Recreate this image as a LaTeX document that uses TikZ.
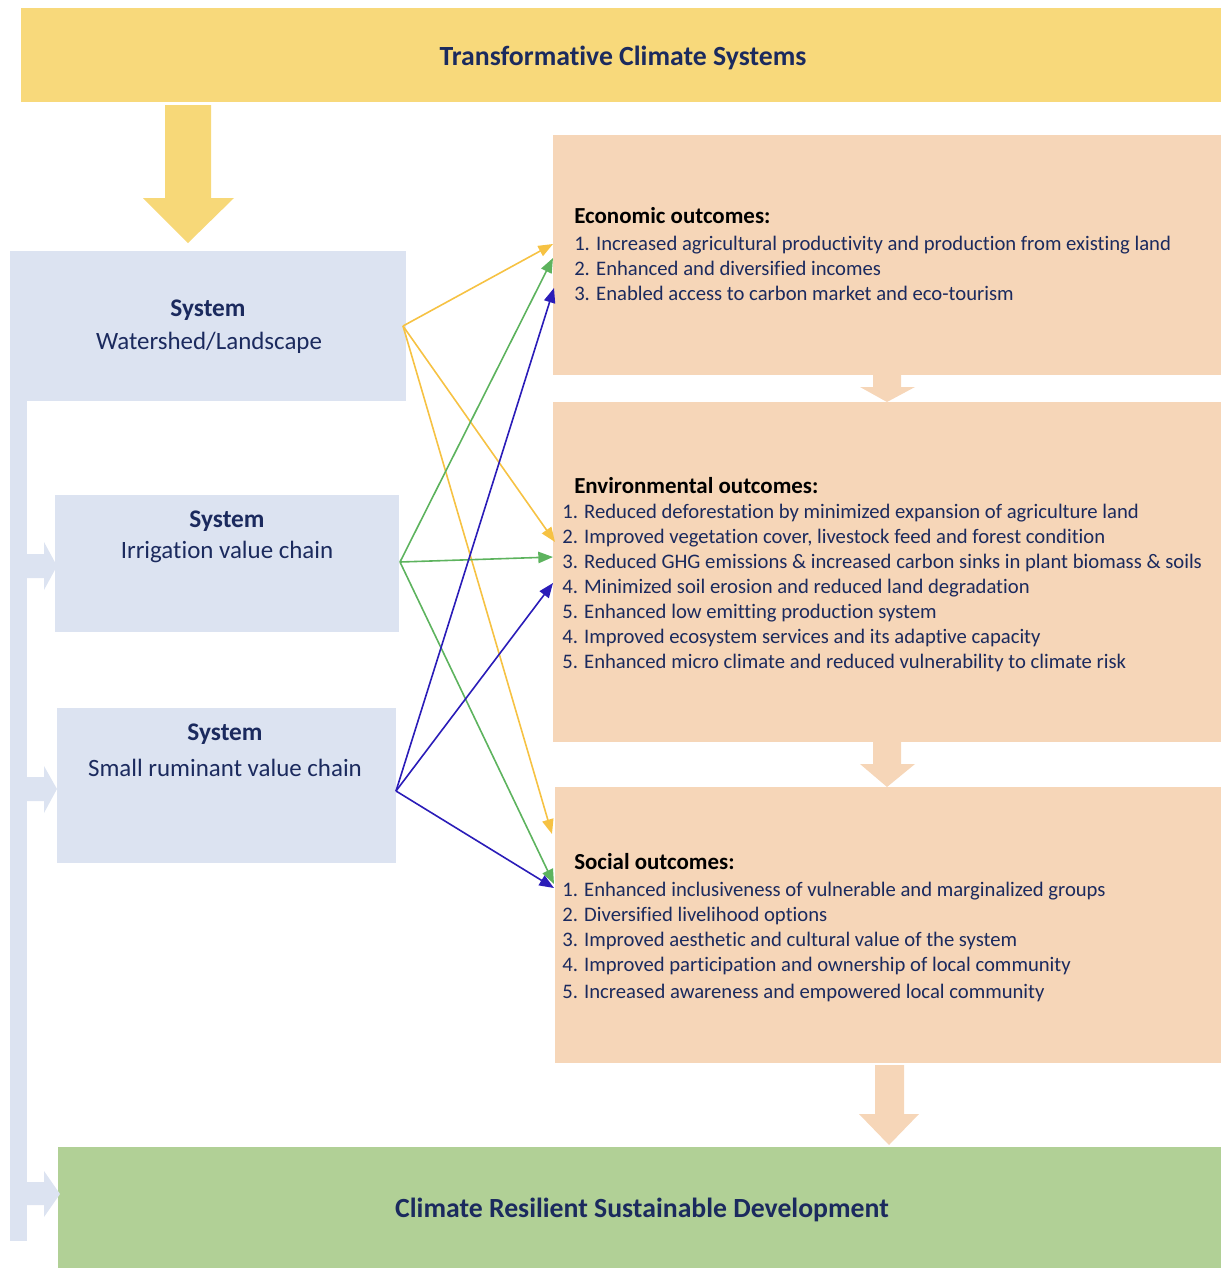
\documentclass[tikz,border=0pt]{standalone}
\usepackage{fontspec}
\setmainfont{Carlito}[Ligatures=NoCommon]
\usetikzlibrary{arrows.meta}
\definecolor{bannerY}{HTML}{F8D97B}
\definecolor{arrowY}{HTML}{F7D878}
\definecolor{peach}{HTML}{F6D6B8}
\definecolor{sysblue}{HTML}{DCE3F1}
\definecolor{greenbox}{HTML}{B1D096}
\definecolor{navy}{HTML}{1B2A5E}
\definecolor{lnY}{HTML}{F6C243}
\definecolor{lnG}{HTML}{5DB35E}
\definecolor{lnB}{HTML}{2A1CB8}
\tikzset{
  rbox/.style={inner sep=0pt, outer sep=0pt, anchor=north west},
  title/.style={font=\fontsize{20.8}{24}\selectfont\bfseries, text=navy},
  head/.style={font=\fontsize{17.2}{20}\selectfont\bfseries, text=black, anchor=west, inner sep=0pt},
  items/.style={font=\fontsize{15.5}{18.75}\selectfont, text=navy, anchor=north west, align=left, inner sep=0pt},
  syshead/.style={font=\fontsize{19}{22}\selectfont\bfseries, text=navy, inner sep=0pt},
  systext/.style={font=\fontsize{18.7}{22}\selectfont, text=navy, inner sep=0pt},
  conn/.style={line width=1.2pt, -{Triangle[length=11pt,width=8.5pt]}},
}
\begin{document}
\begin{tikzpicture}[x=0.75pt,y=-0.75pt]
\useasboundingbox (0,0) rectangle (1221,1268);
% boxes
\node[rbox, fill=bannerY, minimum width=1200*0.75pt, minimum height=94*0.75pt] (banner) at (21,8) {};
\node[rbox, fill=peach, minimum width=668*0.75pt, minimum height=240*0.75pt] (econ) at (553,135) {};
\node[rbox, fill=peach, minimum width=668*0.75pt, minimum height=340*0.75pt] (env) at (553,402) {};
\node[rbox, fill=peach, minimum width=666*0.75pt, minimum height=276*0.75pt] (soc) at (555,787) {};
\node[rbox, fill=greenbox, minimum width=1163*0.75pt, minimum height=121*0.75pt] (crsd) at (58,1147) {};
\node[rbox, fill=sysblue, minimum width=396*0.75pt, minimum height=150*0.75pt] (ws) at (10,251) {};
\node[rbox, fill=sysblue, minimum width=344*0.75pt, minimum height=137*0.75pt] (irr) at (55,495) {};
\node[rbox, fill=sysblue, minimum width=339*0.75pt, minimum height=155*0.75pt] (rum) at (57,708) {};
% left bar with side arrows
\fill[sysblue] (10,251) rectangle (27,1241);
\fill[sysblue] (27,554) -- (44,554) -- (44,542) -- (57,566) -- (44,590) -- (44,578) -- (27,578) -- cycle;
\fill[sysblue] (27,777) -- (44,777) -- (44,766) -- (57,789) -- (44,813) -- (44,801) -- (27,801) -- cycle;
\fill[sysblue] (27,1182) -- (44,1182) -- (44,1171) -- (60,1194) -- (44,1217) -- (44,1205) -- (27,1205) -- cycle;
% big block arrows
\fill[arrowY] (165,105) -- (211,105) -- (211,198) -- (234,198) -- (188,243) -- (143,198) -- (165,198) -- cycle;
\fill[peach] (873,374) -- (901,374) -- (901,387) -- (915,387) -- (887,402) -- (860,387) -- (873,387) -- cycle;
\fill[peach] (873,741) -- (901,741) -- (901,764) -- (915,764) -- (887,787) -- (860,764) -- (873,764) -- cycle;
\fill[peach] (875,1065) -- (904,1065) -- (904,1114) -- (919,1114) -- (889,1145) -- (859,1114) -- (875,1114) -- cycle;
% texts
\node[title] (ttl) at (623,58) {Transformative Climate Systems};
\node[title] (ctl) at (642,1210) {Climate Resilient Sustainable Development};
\node[syshead] (ws1) at (208,310) {System};
\node[systext] (ws2) at (209,343) {Watershed/Landscape};
\node[syshead] (irr1) at (227,521) {System};
\node[systext] (irr2) at (227,552) {Irrigation value chain};
\node[syshead] (rum1) at (225,734) {System};
\node[systext] (rum2) at (225,768) {Small ruminant value chain};
\node[head] (eh) at (574,216) {Economic outcomes:};
\node[items] (ei) at (574,236) {1. Increased agricultural productivity and production from existing land\\
2. Enhanced and diversified incomes\\
3. Enabled access to carbon market and eco-tourism};
\node[head] (vh) at (574,486) {Environmental outcomes:};
\node[items] (vi) at (562,504) {1. Reduced deforestation by minimized expansion of agriculture land\\
2. Improved vegetation cover, livestock feed and forest condition\\
3. Reduced GHG emissions \& increased carbon sinks in plant biomass \& soils\\
4. Minimized soil erosion and reduced land degradation\\
5. Enhanced low emitting production system\\
4. Improved ecosystem services and its adaptive capacity\\
5. Enhanced micro climate and reduced vulnerability to climate risk};
\node[head] (sh) at (574,862) {Social outcomes:};
\node[items] (si) at (562,882) {1. Enhanced inclusiveness of vulnerable and marginalized groups\\
2. Diversified livelihood options\\
3. Improved aesthetic and cultural value of the system\\
4. Improved participation and ownership of local community\\[1.5pt]
5. Increased awareness and empowered local community};
% connector anchors
\coordinate (wsO) at (403,326);
\coordinate (irrO) at (400,562);
\coordinate (rumO) at (396,791);
\coordinate (eY) at (553,244);
\coordinate (eG) at (553,258);
\coordinate (eB) at (554,288);
\coordinate (vY) at (555,542);
\coordinate (vG) at (553,557);
\coordinate (vB) at (553,583);
\coordinate (sY) at (552,834);
\coordinate (sG) at (554,884);
\coordinate (sB) at (554,888);
% connectors
\draw[conn, lnY] (wsO) -- (eY);
\draw[conn, lnY] (wsO) -- (vY);
\draw[conn, lnY] (wsO) -- (sY);
\draw[conn, lnG] (irrO) -- (eG);
\draw[conn, lnG] (irrO) -- (vG);
\draw[conn, lnG] (irrO) -- (sG);
\draw[conn, lnB] (rumO) -- (eB);
\draw[conn, lnB] (rumO) -- (vB);
\draw[conn, lnB] (rumO) -- (sB);
\end{tikzpicture}
\end{document}
